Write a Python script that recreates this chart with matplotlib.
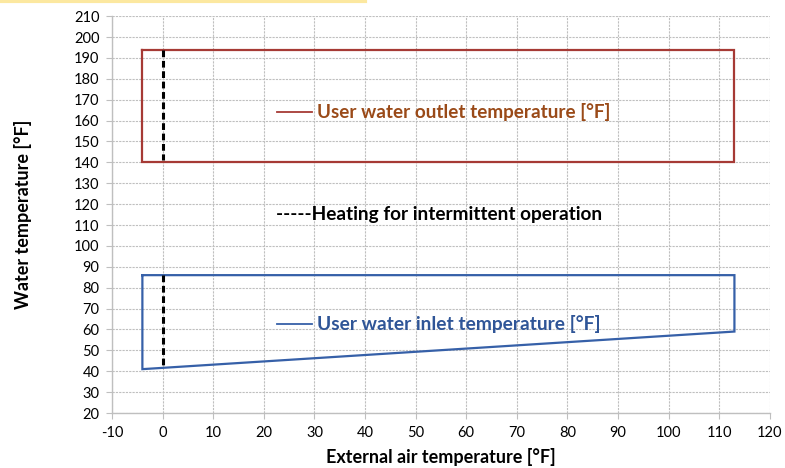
import numpy as np
import matplotlib
matplotlib.use("Agg")
import matplotlib.pyplot as plt
from matplotlib.lines import Line2D

plt.rcParams["font.family"] = ["Lato", "DejaVu Sans"]
plt.rcParams["axes.unicode_minus"] = False

# ── Data ────────────────────────────────────────────────────────────────────
# outlet envelope (closed outline)
OUTLET_X = [-4, 113, 113, -4, -4]
OUTLET_Y = [194, 194, 140, 140, 194]

# inlet envelope (sloped bottom edge)
INLET_X = [-4, 113, 113, -4, -4]
INLET_Y = [86, 86, 59, 41, 86]

# intermittent heating lines at 0 °F
HEAT_X = [0, 0]
HEAT_OUT_Y = [194, 141]
HEAT_IN_Y = [86, 42]

X_TICKS = list(range(-10, 121, 10))
Y_TICKS = list(range(20, 211, 10))

RED = "#A63A35"
RED_TXT = "#9A4A18"
BLUE = "#3660A8"
BLUE_TXT = "#2F5597"
GRID = "#BFBFBF"

fig = plt.figure(figsize=(7.85, 4.68), dpi=100)
ax = fig.add_axes([0.1427, 0.1175, 0.838, 0.848])

ax.plot(OUTLET_X, OUTLET_Y, color=RED, lw=1.6, solid_joinstyle="miter")
ax.plot(INLET_X, INLET_Y, color=BLUE, lw=1.6, solid_joinstyle="miter")
ax.plot(HEAT_X, HEAT_OUT_Y, color="black", lw=2.2, ls=(0, (2.2, 1.2)))
ax.plot(HEAT_X, HEAT_IN_Y, color="black", lw=2.2, ls=(0, (2.2, 1.2)))

ax.set_xlim(X_TICKS[0], X_TICKS[-1])
ax.set_ylim(Y_TICKS[0], Y_TICKS[-1])
ax.set_xticks(X_TICKS)
ax.set_yticks(Y_TICKS)
ax.tick_params(labelsize=10.5, length=4, color=GRID, pad=5)
ax.grid(True, color=GRID, ls=(0, (2, 1)), lw=0.8)
ax.set_axisbelow(True)
for s in ["top", "right"]:
    ax.spines[s].set_visible(False)
for s in ["left", "bottom"]:
    ax.spines[s].set_color(GRID)
    ax.spines[s].set_linewidth(1.0)

ax.set_xlabel("External air temperature [°F]", fontsize=13, fontweight="bold", labelpad=6)
ax.set_ylabel("Water temperature [°F]", fontsize=13, fontweight="bold", labelpad=30)

# in-plot labels
ax.add_line(Line2D([0.251, 0.304], [0.758, 0.758], transform=ax.transAxes, color=RED, lw=1.3))
ax.text(0.311, 0.758, "User water outlet temperature [°F]", transform=ax.transAxes,
        fontsize=13.6, fontweight="bold", color=RED_TXT, va="center", ha="left")

ax.add_line(Line2D([0.251, 0.304], [0.224, 0.224], transform=ax.transAxes, color=BLUE, lw=1.3))
ax.text(0.311, 0.224, "User water inlet temperature [°F]", transform=ax.transAxes,
        fontsize=13.8, fontweight="bold", color=BLUE_TXT, va="center", ha="left")

ax.text(0.249, 0.499, "-----Heating for intermittent operation", transform=ax.transAxes,
        fontsize=13.7, fontweight="bold", color="black", va="center", ha="left")

# yellow highlight strip at the top edge
fig.add_artist(Line2D([0, 0.465], [0.997, 0.997], transform=fig.transFigure,
                      color="#FCE8A0", lw=3))

fig.savefig("out.png", dpi=100)
